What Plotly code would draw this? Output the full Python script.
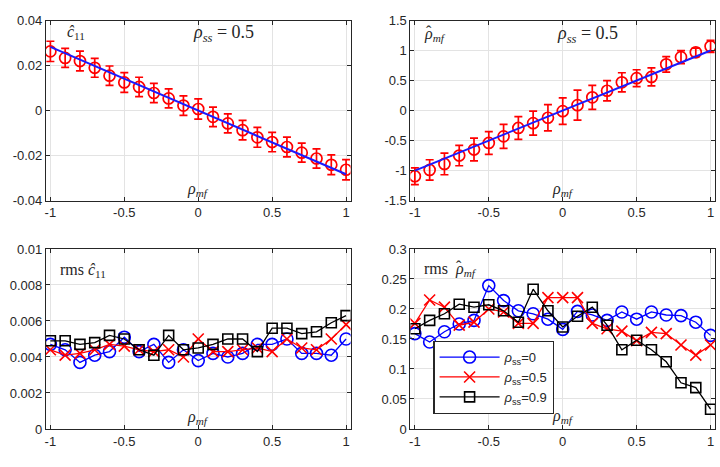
import plotly.graph_objects as go

rho = [-1, -0.9, -0.8, -0.7, -0.6, -0.5, -0.4, -0.3, -0.2, -0.1, 0,
       0.1, 0.2, 0.3, 0.4, 0.5, 0.6, 0.7, 0.8, 0.9, 1]

# top-left: c11 estimates (rho_ss = 0.5)
c11_true_x = [-1, 1]
c11_true = [0.0283, -0.0283]
c11_mean = [0.0263, 0.0234, 0.0220, 0.0190, 0.0155, 0.0125, 0.0105, 0.0078, 0.0054, 0.0022, 0.0007,
            -0.0028, -0.0057, -0.0087, -0.0119, -0.0140, -0.0162, -0.0187, -0.0213, -0.0241, -0.0263]
c11_err = [0.0045, 0.0042, 0.0044, 0.0042, 0.0043, 0.0044, 0.0043, 0.0043, 0.0042, 0.0043, 0.0045,
           0.0043, 0.0042, 0.0043, 0.0044, 0.0043, 0.0044, 0.0042, 0.0043, 0.0044, 0.0045]

# top-right: rho_mf estimates
rho_true_x = [-1, 1]
rho_true_y = [-1, 1]
rho_mean = [-1.095, -0.99, -0.89, -0.75, -0.65, -0.54, -0.43, -0.29, -0.21, -0.12, -0.01,
            0.09, 0.22, 0.33, 0.47, 0.54, 0.56, 0.77, 0.89, 0.97, 1.07]
rho_err = [0.14, 0.17, 0.18, 0.17, 0.19, 0.19, 0.2, 0.19, 0.2, 0.22, 0.22,
           0.25, 0.2, 0.17, 0.16, 0.14, 0.15, 0.13, 0.11, 0.07, 0.1]

# bottom-left: rms c11
rms_c11_0 = [0.0047, 0.0044, 0.0037, 0.0041, 0.0043, 0.0051, 0.0043, 0.0047, 0.0037, 0.0044, 0.0038,
             0.0042, 0.0040, 0.0042, 0.0047, 0.0047, 0.0050, 0.0042, 0.0042, 0.0041, 0.0050]
rms_c11_5 = [0.0044, 0.0041, 0.0042, 0.0044, 0.0047, 0.0046, 0.0044, 0.0043, 0.0044, 0.0040, 0.0050,
             0.0043, 0.0043, 0.0044, 0.0045, 0.0043, 0.0050, 0.0045, 0.0044, 0.0050, 0.0058]
rms_c11_9 = [0.0049, 0.0049, 0.0047, 0.0048, 0.0052, 0.0050, 0.0044, 0.0041, 0.0052, 0.0044, 0.0045,
             0.0047, 0.0050, 0.0050, 0.0043, 0.0056, 0.0056, 0.0053, 0.0054, 0.0059, 0.0063]

# bottom-right: rms rho_mf
rms_rho_0 = [0.159, 0.145, 0.162, 0.175, 0.181, 0.239, 0.214, 0.197, 0.192, 0.183, 0.166,
             0.196, 0.190, 0.181, 0.195, 0.183, 0.195, 0.190, 0.189, 0.178, 0.156]
rms_rho_5 = [0.176, 0.215, 0.203, 0.173, 0.178, 0.200, 0.195, 0.176, 0.176, 0.219, 0.219,
             0.219, 0.176, 0.167, 0.163, 0.147, 0.161, 0.159, 0.140, 0.123, 0.140]
rms_rho_9 = [0.167, 0.181, 0.192, 0.208, 0.203, 0.207, 0.197, 0.178, 0.233, 0.197, 0.170,
             0.188, 0.203, 0.173, 0.132, 0.148, 0.132, 0.112, 0.077, 0.069, 0.033]

legend_names = ["<i>ρ</i><sub>ss</sub>=0", "<i>ρ</i><sub>ss</sub>=0.5", "<i>ρ</i><sub>ss</sub>=0.9"]

x_ticks = [-1, -0.5, 0, 0.5, 1]
x_ticktext = ["-1", "-0.5", "0", "0.5", "1"]
y_ticks_tl = [-0.04, -0.02, 0, 0.02, 0.04]
y_text_tl = ["-0.04", "-0.02", "0", "0.02", "0.04"]
y_ticks_tr = [-1.5, -1, -0.5, 0, 0.5, 1, 1.5]
y_text_tr = ["-1.5", "-1", "-0.5", "0", "0.5", "1", "1.5"]
y_ticks_bl = [0, 0.002, 0.004, 0.006, 0.008, 0.01]
y_text_bl = ["0", "0.002", "0.004", "0.006", "0.008", "0.01"]
y_ticks_br = [0, 0.05, 0.1, 0.15, 0.2, 0.25, 0.3]
y_text_br = ["0", "0.05", "0.1", "0.15", "0.2", "0.25", "0.3"]

W, H = 720, 467
def px(a, b):
    return [a / W, b / W]
def py(top, bottom):
    return [1 - bottom / H, 1 - top / H]

BLUE = "#0000ff"
RED = "#ff0000"
BLACK = "#000000"
SANS = "Liberation Sans"
SERIF = "Liberation Serif"

fig = go.Figure()

# Top-left
fig.add_trace(go.Scatter(x=rho, y=c11_mean, mode="markers",
                         marker=dict(symbol="circle-open", size=11, color=RED, line=dict(width=1.7)),
                         error_y=dict(type="data", array=c11_err, color=RED, thickness=1.7, width=4),
                         xaxis="x", yaxis="y", showlegend=False))
fig.add_trace(go.Scatter(x=c11_true_x, y=c11_true, mode="lines",
                         line=dict(color="#1a1aff", width=2), xaxis="x", yaxis="y", showlegend=False))

# Top-right
fig.add_trace(go.Scatter(x=rho, y=rho_mean, mode="markers",
                         marker=dict(symbol="circle-open", size=11, color=RED, line=dict(width=1.7)),
                         error_y=dict(type="data", array=rho_err, color=RED, thickness=1.7, width=4),
                         xaxis="x2", yaxis="y2", showlegend=False))
fig.add_trace(go.Scatter(x=rho_true_x, y=rho_true_y, mode="lines",
                         line=dict(color="#1a1aff", width=2), xaxis="x2", yaxis="y2", showlegend=False))

series_style = [
    (BLUE, "circle-open", 12),
    (RED, "x-thin-open", 11),
    (BLACK, "square-open", 10),
]

for (col, sym, sz), ys in zip(series_style, [rms_c11_0, rms_c11_5, rms_c11_9]):
    fig.add_trace(go.Scatter(x=rho, y=ys, mode="lines+markers",
                             line=dict(color=col, width=1.3),
                             marker=dict(symbol=sym, size=sz, color=col, line=dict(width=1.6, color=col)),
                             xaxis="x3", yaxis="y3", showlegend=False))

for (col, sym, sz), ys, name in zip(series_style, [rms_rho_0, rms_rho_5, rms_rho_9], legend_names):
    fig.add_trace(go.Scatter(x=rho, y=ys, mode="lines+markers", name=name,
                             line=dict(color=col, width=1.3),
                             marker=dict(symbol=sym, size=sz, color=col, line=dict(width=1.6, color=col)),
                             xaxis="x4", yaxis="y4", showlegend=True))

tickfont = dict(family=SANS, size=13, color="#262626")
common_x = dict(range=[-1.03, 1.03], tickvals=x_ticks, ticktext=x_ticktext, ticks="inside",
                ticklen=4, tickcolor="#262626", showline=True, linecolor="#262626", linewidth=1,
                mirror="ticks", showgrid=True, gridcolor="#e3e3e3", gridwidth=1, zeroline=False,
                tickfont=tickfont)
common_y = dict(ticks="inside", ticklen=4, tickcolor="#262626", showline=True, linecolor="#262626",
                linewidth=1, mirror="ticks", showgrid=True, gridcolor="#e3e3e3", gridwidth=1,
                zeroline=False, tickfont=tickfont)

dx_left = px(45, 350)
dx_right = px(410, 715)
dy_top = py(14, 200)
dy_bot = py(250, 436)

fig.update_layout(
    width=W, height=H,
    margin=dict(l=0, r=0, t=0, b=0),
    paper_bgcolor="white", plot_bgcolor="white",
    font=dict(family=SANS, color="#262626"),
    xaxis=dict(domain=dx_left, anchor="y", **common_x),
    yaxis=dict(domain=dy_top, anchor="x", range=[-0.04, 0.04], tickvals=y_ticks_tl, ticktext=y_text_tl, **common_y),
    xaxis2=dict(domain=dx_right, anchor="y2", **common_x),
    yaxis2=dict(domain=dy_top, anchor="x2", range=[-1.5, 1.5], tickvals=y_ticks_tr, ticktext=y_text_tr, **common_y),
    xaxis3=dict(domain=dx_left, anchor="y3", **common_x),
    yaxis3=dict(domain=dy_bot, anchor="x3", range=[0, 0.01], tickvals=y_ticks_bl, ticktext=y_text_bl, **common_y),
    xaxis4=dict(domain=dx_right, anchor="y4", **common_x),
    yaxis4=dict(domain=dy_bot, anchor="x4", range=[0, 0.3], tickvals=y_ticks_br, ticktext=y_text_br, **common_y),
    legend=dict(x=433 / W, y=1 - 345 / H, xanchor="left", yanchor="top",
                bgcolor="white", bordercolor="#262626", borderwidth=1.2,
                font=dict(family=SANS, size=13, color="#262626"),
                itemwidth=60, tracegroupgap=0),
    showlegend=True,
)

ann = []
def add_text(text, xref, yref, x, y, size=16, xanchor="center"):
    ann.append(dict(text=text, xref=xref, yref=yref, x=x, y=y, showarrow=False,
                    font=dict(family=SERIF, size=size, color="#262626"), xanchor=xanchor, yanchor="middle"))

rmf = "<i>ρ</i><sub><i>mf</i></sub>"
# x labels inside plots
add_text(rmf, "x", "y", 0, -0.0352)
add_text(rmf, "x2", "y2", 0, -1.32)
add_text(rmf, "x3", "y3", 0, 0.00065)
add_text(rmf, "x4", "y4", 0, 0.02)
# panel labels
add_text("<i>ĉ</i><sub>11</sub>", "x", "y", -0.9, 0.0345, xanchor="left")
add_text("<i>ρ</i><sub><i>ss</i></sub> = 0.5", "x", "y", 0.17, 0.0343, size=18)
add_text("<i>ρ</i><sub><i>mf</i></sub>", "x2", "y2", -0.95, 1.26, xanchor="left")
add_text("ˆ", "x2", "y2", -0.905, 1.31, size=16)
add_text("<i>ρ</i><sub><i>ss</i></sub> = 0.5", "x2", "y2", 0.17, 1.26, size=18)
add_text("rms <i>ĉ</i><sub>11</sub>", "x3", "y3", -0.95, 0.0088, xanchor="left")
add_text("rms\u2002<i>ρ</i><sub><i>mf</i></sub>", "x4", "y4", -0.95, 0.266, xanchor="left")
add_text("ˆ", "x4", "y4", -0.7, 0.2715, size=16)
fig.update_layout(annotations=ann)

fig.write_html("out.html")
